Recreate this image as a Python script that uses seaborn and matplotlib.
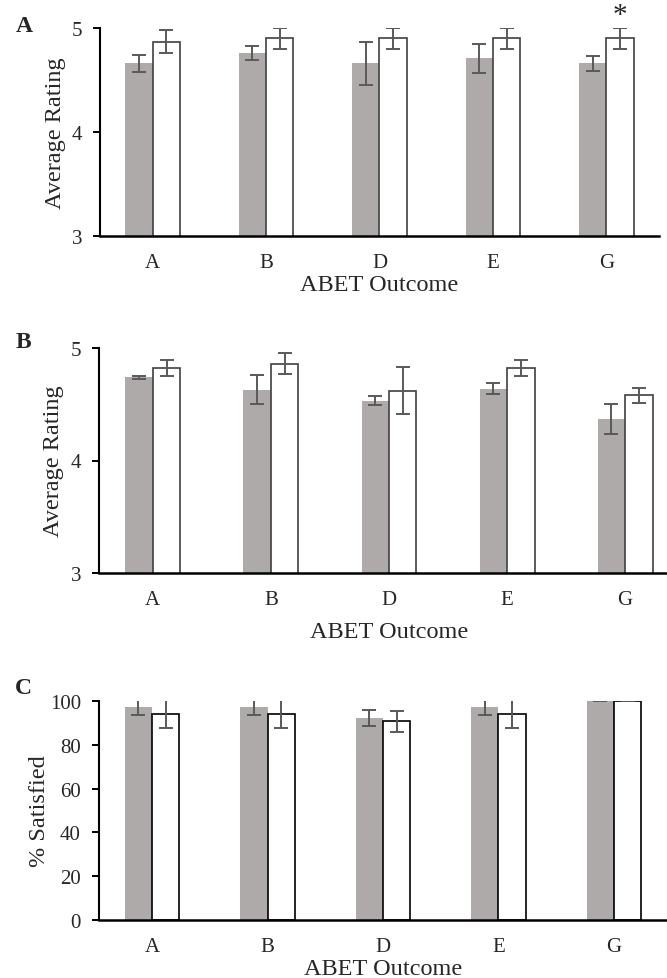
import seaborn as sns
import matplotlib.pyplot as plt
import pandas as pd

# ABET outcomes on the x axis
outcomes = ['A', 'B', 'D', 'E', 'G']
groups = ['Group 1', 'Group 2']

# Panel A - average rating
a_gray = [4.66, 4.76, 4.66, 4.71, 4.66]
a_gray_err = [0.08, 0.07, 0.21, 0.14, 0.07]
a_white = [4.87, 4.90, 4.90, 4.90, 4.90]
a_white_err = [0.115, 0.10, 0.10, 0.10, 0.10]

# Panel B - average rating
b_gray = [4.74, 4.63, 4.53, 4.64, 4.37]
b_gray_err = [0.015, 0.13, 0.04, 0.045, 0.13]
b_white = [4.82, 4.86, 4.62, 4.82, 4.58]
b_white_err = [0.07, 0.095, 0.21, 0.07, 0.065]

# Panel C - % satisfied
c_gray = [97.3, 97.3, 92.1, 97.3, 100]
c_gray_err = [3.5, 3.5, 3.6, 3.5, 0]
c_white = [94.2, 94.2, 90.7, 94.2, 100]
c_white_err = [6.7, 6.7, 4.9, 6.7, 0]

sns.set_theme(style='ticks')
plt.rcParams['font.family'] = ['Liberation Serif', 'DejaVu Serif']

GRAY = '#aeaaa9'
ERR = '#595959'

fig = plt.figure(figsize=(6.67, 9.79), dpi=100)

panels = [
    # label, label pos (px), rect, gray, gray err, white, white err, ylim, yticks, ylabel, edge, bar width, ylabelpad, xlabelpad
    ('A', (16, 27), [100 / 667, 1 - 237 / 979, 559 / 667, 208 / 979], a_gray, a_gray_err, a_white, a_white_err,
     (3, 5), [3, 4, 5], 'Average Rating', '#404040', 54 / 112, 4, 2),
    ('B', (16, 342), [99 / 667, 1 - 574 / 979, 580 / 667, 225 / 979], b_gray, b_gray_err, b_white, b_white_err,
     (3, 5), [3, 4, 5], 'Average Rating', '#404040', 54 / 116, 5, 9),
    ('C', (15, 688), [99 / 667, 1 - 921 / 979, 568 / 667, 219 / 979], c_gray, c_gray_err, c_white, c_white_err,
     (0, 100), [0, 20, 40, 60, 80, 100], '% Satisfied', '#000000', 54 / 114, 0, 2),
]

for label, lpos, rect, gray, gray_err, white, white_err, ylim, yticks, ylabel, edge, bw, ypad, xpad in panels:
    ax = fig.add_axes(rect)
    df = pd.DataFrame({
        'outcome': outcomes * 2,
        'value': gray + white,
        'group': [groups[0]] * len(outcomes) + [groups[1]] * len(outcomes),
    })
    sns.barplot(data=df, x='outcome', y='value', hue='group', palette=[GRAY, 'white'],
                width=bw, errorbar=None, saturation=1, legend=False, ax=ax)

    # white bars get a dark outline
    for bar in ax.containers[0]:
        bar.set_edgecolor('none')
    for bar in ax.containers[1]:
        bar.set_edgecolor(edge)
        bar.set_linewidth(1.2)

    # error bars on top of each bar
    for cont, errs in zip(ax.containers, [gray_err, white_err]):
        xs = [b.get_x() + b.get_width() / 2 for b in cont]
        ys = [b.get_height() for b in cont]
        ax.errorbar(xs, ys, yerr=errs, fmt='none', ecolor=ERR, elinewidth=1.4,
                    capsize=5, capthick=1.4, zorder=5)

    if label == 'A':
        bar = ax.containers[1][4]
        ax.annotate('*', (bar.get_x() + bar.get_width() / 2, white[4] + white_err[4]),
                    xytext=(0, 0), textcoords='offset points', ha='center', va='bottom',
                    fontsize=21, annotation_clip=False)

    ax.set_ylim(*ylim)
    ax.set_yticks(yticks)
    ax.set_ylabel(ylabel, fontsize=17.5, labelpad=ypad)
    ax.set_xlabel('ABET Outcome', fontsize=17.5, labelpad=xpad)
    ax.tick_params(axis='x', length=0, pad=12, labelsize=15)
    ax.tick_params(axis='y', length=5, width=1.4, pad=8, labelsize=15, color='black')
    sns.despine(ax=ax)
    ax.spines['left'].set_linewidth(1.5)
    ax.spines['bottom'].set_linewidth(1.8)
    ax.spines['left'].set_color('black')
    ax.spines['bottom'].set_color('black')

    # panel letter
    fig.text(lpos[0] / 667, 1 - lpos[1] / 979, label, fontsize=17, fontweight='bold',
             ha='left', va='center')

fig.savefig('out.png', dpi=100)
